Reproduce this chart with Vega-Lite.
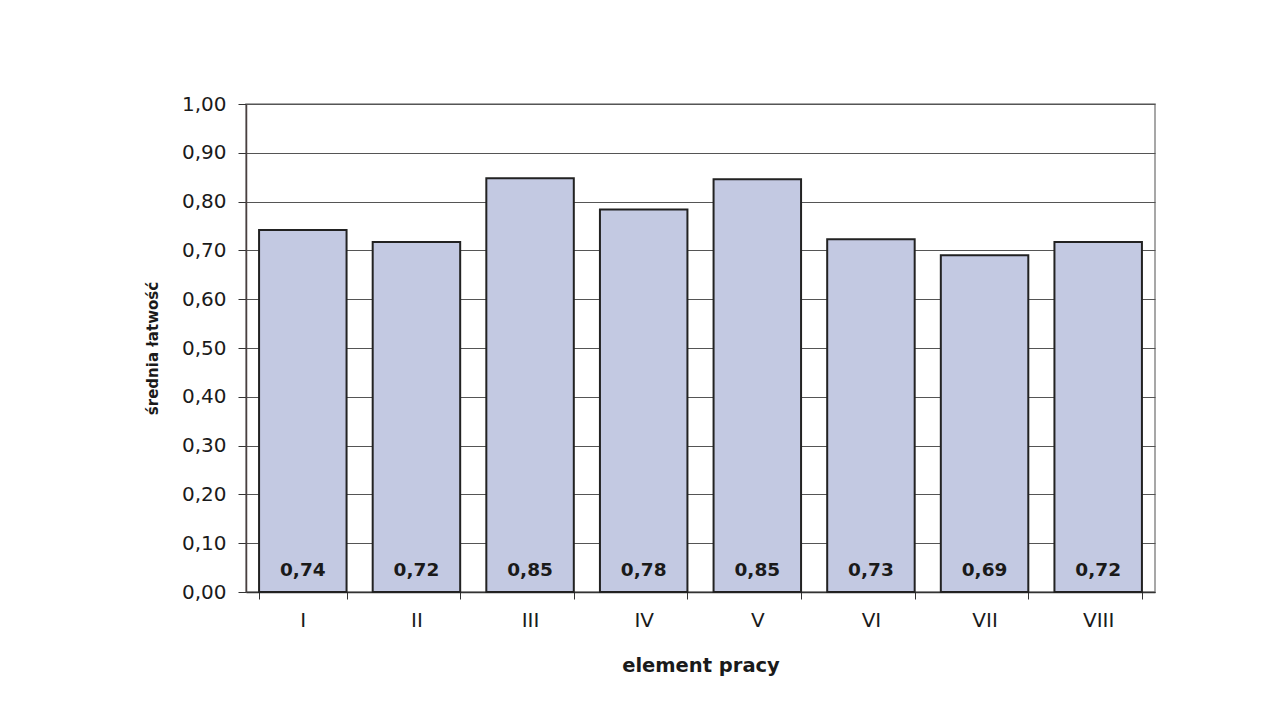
{
  "$schema": "https://vega.github.io/schema/vega-lite/v6.json",
  "autosize": {"type": "none"},
  "width": 909,
  "height": 488,
  "padding": {"left": 246, "top": 104, "right": 127, "bottom": 133},
  "background": "white",
  "config": {
    "view": {"stroke": "#8a8a8a", "strokeWidth": 1.5},
    "font": "DejaVu Sans"
  },
  "data": {
    "values": [
      {"element": "I", "value": 0.742, "label": "0,74"},
      {"element": "II", "value": 0.717, "label": "0,72"},
      {"element": "III", "value": 0.848, "label": "0,85"},
      {"element": "IV", "value": 0.784, "label": "0,78"},
      {"element": "V", "value": 0.846, "label": "0,85"},
      {"element": "VI", "value": 0.723, "label": "0,73"},
      {"element": "VII", "value": 0.690, "label": "0,69"},
      {"element": "VIII", "value": 0.717, "label": "0,72"}
    ]
  },
  "encoding": {
    "x": {
      "field": "element",
      "type": "nominal",
      "sort": null,
      "scale": {"paddingInner": 0.23, "paddingOuter": 0.115},
      "axis": {
        "title": "element pracy",
        "labelAngle": 0,
        "labelFont": "DejaVu Sans",
        "labelFontSize": 20,
        "labelColor": "#1a1a1a",
        "labelPadding": 11,
        "tickBand": "extent",
        "tickSize": 7,
        "tickColor": "#333",
        "domainColor": "#333",
        "domainWidth": 1.5,
        "titleFont": "DejaVu Sans",
        "titleFontSize": 19.5,
        "titleFontWeight": "bold",
        "titleColor": "#1a1a1a",
        "titlePadding": 26
      }
    }
  },
  "layer": [
    {
      "mark": {"type": "bar", "fill": "#c3c9e2", "stroke": "#222", "strokeWidth": 2},
      "encoding": {
        "y": {
          "field": "value",
          "type": "quantitative",
          "scale": {"domain": [0, 1], "nice": false},
          "axis": {
            "title": "średnia łatwość",
            "values": [0, 0.1, 0.2, 0.3, 0.4, 0.5, 0.6, 0.7, 0.8, 0.9, 1.0],
            "labelExpr": "replace(format(datum.value, '.2f'), '.', ',')",
            "labelFont": "DejaVu Sans",
            "labelFontSize": 20,
            "labelColor": "#1a1a1a",
            "labelPadding": 12,
            "tickSize": 8,
            "tickColor": "#333",
            "domainColor": "#4a4040",
            "domainWidth": 1.5,
            "grid": true,
            "gridColor": "#555",
            "gridWidth": 1.2,
            "titleFont": "DejaVu Sans",
            "titleFontSize": 15,
            "titleFontWeight": "bold",
            "titleColor": "#1a1a1a",
            "titlePadding": 21
          }
        }
      }
    },
    {
      "mark": {"type": "text", "font": "DejaVu Sans", "fontSize": 18.5, "fontWeight": "bold", "color": "#1a1a1a", "baseline": "middle", "align": "center"},
      "encoding": {
        "y": {"datum": 0.046, "type": "quantitative"},
        "text": {"field": "label"}
      }
    }
  ]
}
